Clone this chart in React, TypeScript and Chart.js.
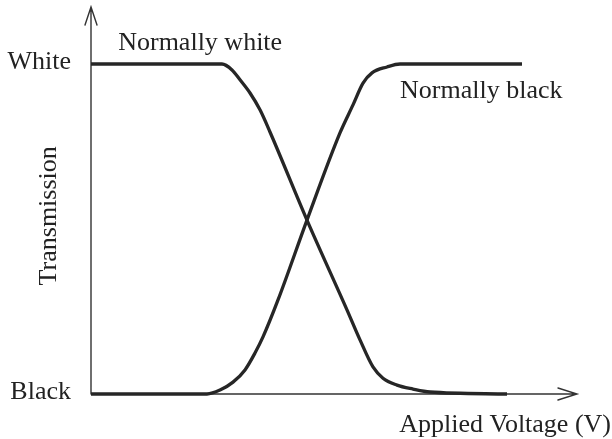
import React, { useEffect, useRef } from "react";
import { Chart, registerables } from "chart.js";

Chart.register(...registerables);

// Applied voltage (arbitrary units, 0..10 along the axis) and transmission (0 = black, 1 = white)
const whiteX = [0, 2.695, 2.901, 3.066, 3.272, 3.477, 3.683, 4.444, 5.267, 5.535, 5.802, 6.008, 6.296, 6.626, 6.975, 8.56];
const whiteY = [1, 1, 0.982, 0.952, 0.912, 0.861, 0.794, 0.527, 0.255, 0.164, 0.082, 0.048, 0.027, 0.015, 0.006, 0];
const blackX = [0, 2.387, 2.654, 2.922, 3.169, 3.374, 3.539, 3.848, 4.444, 5.123, 5.391, 5.597, 5.782, 6.091, 6.358, 8.868];
const blackY = [0, 0, 0.012, 0.036, 0.073, 0.124, 0.173, 0.285, 0.527, 0.791, 0.876, 0.942, 0.973, 0.991, 1, 1];

const yTickValues = [0, 1];
const yTickLabels = ["Black", "White"];
const seriesLabels = ["Normally white", "Normally black"];
const xTitle = "Applied Voltage (V)";
const yTitle = "Transmission";

const X_MAX = 10;
const Y_MAX = 1.1727;
const FONT = "26px 'Liberation Serif', 'DejaVu Serif', serif";
const INK = "#262626";

const decorPlugin = {
  id: "decor",
  beforeDatasetsDraw(chart: any) {
    const { ctx } = chart;
    const xs = chart.scales.x;
    const ys = chart.scales.y;
    const x0 = xs.getPixelForValue(0);
    const y0 = ys.getPixelForValue(0);
    const xEnd = xs.getPixelForValue(X_MAX);
    const yTop = ys.getPixelForValue(Y_MAX);
    ctx.save();
    ctx.strokeStyle = "#333";
    ctx.lineWidth = 1.4;
    ctx.lineCap = "round";
    ctx.beginPath();
    ctx.moveTo(x0, y0);
    ctx.lineTo(xEnd, y0);
    ctx.moveTo(x0, y0);
    ctx.lineTo(x0, yTop);
    // arrow heads
    ctx.moveTo(x0 - 6, yTop + 18);
    ctx.lineTo(x0, yTop);
    ctx.lineTo(x0 + 6, yTop + 18);
    ctx.moveTo(xEnd - 19, y0 - 6);
    ctx.lineTo(xEnd, y0);
    ctx.lineTo(xEnd - 19, y0 + 6);
    ctx.stroke();
    ctx.restore();
  },
  afterDatasetsDraw(chart: any) {
    const { ctx } = chart;
    const xs = chart.scales.x;
    const ys = chart.scales.y;
    const x0 = xs.getPixelForValue(0);
    const y0 = ys.getPixelForValue(0);
    const xEnd = xs.getPixelForValue(X_MAX);
    ctx.save();
    ctx.fillStyle = "#222";
    ctx.font = FONT;
    // y tick labels
    ctx.textAlign = "right";
    ctx.textBaseline = "middle";
    yTickValues.forEach((v, i) => {
      ctx.fillText(yTickLabels[i], x0 - 20, ys.getPixelForValue(v) - 2);
    });
    // series labels
    ctx.textAlign = "left";
    ctx.textBaseline = "alphabetic";
    ctx.fillText(seriesLabels[0], xs.getPixelForValue(0.56), ys.getPixelForValue(1) - 14);
    ctx.fillText(seriesLabels[1], xs.getPixelForValue(6.36), ys.getPixelForValue(1) + 34);
    // x title
    ctx.textAlign = "right";
    ctx.fillText(xTitle, xEnd + 34, y0 + 38);
    // y title
    ctx.translate(x0 - 35, ys.getPixelForValue(0.54));
    ctx.rotate(-Math.PI / 2);
    ctx.textAlign = "center";
    ctx.textBaseline = "alphabetic";
    ctx.fillText(yTitle, 0, 0);
    ctx.restore();
  },
};

export default function App() {
  const ref = useRef<HTMLCanvasElement | null>(null);
  useEffect(() => {
    if (!ref.current) return;
    const mk = (xa: number[], ya: number[], label: string) => ({
      label,
      data: xa.map((x, i) => ({ x, y: ya[i] })),
      borderColor: INK,
      borderWidth: 3.3,
      pointRadius: 0,
      fill: false,
      cubicInterpolationMode: "monotone" as const,
      borderCapStyle: "butt" as const,
      clip: false as any,
    });
    const chart = new Chart(ref.current, {
      type: "line",
      data: {
        datasets: [mk(whiteX, whiteY, seriesLabels[0]), mk(blackX, blackY, seriesLabels[1])],
      },
      options: {
        animation: false,
        responsive: false,
        layout: { padding: { left: 91, right: 35, top: 7, bottom: 45 } },
        plugins: { legend: { display: false }, tooltip: { enabled: false } },
        scales: {
          x: { type: "linear", min: 0, max: X_MAX, display: false },
          y: { type: "linear", min: 0, max: Y_MAX, display: false },
        },
      },
      plugins: [decorPlugin],
    });
    return () => chart.destroy();
  }, []);
  return (
    <div style={{ position: "absolute", left: 0, top: 0, width: 612, height: 439, background: "#fff" }}>
      <canvas ref={ref} width={612} height={439} />
    </div>
  );
}
